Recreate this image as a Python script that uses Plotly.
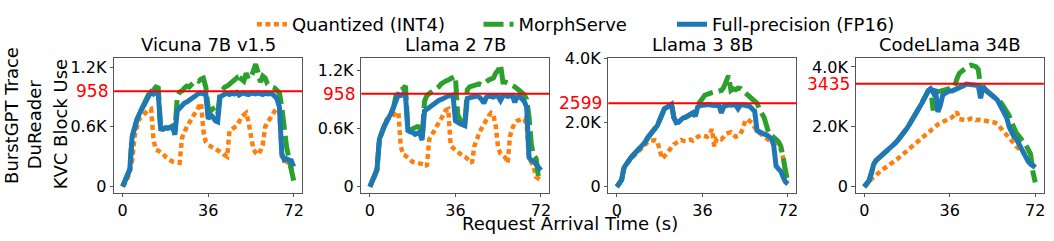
import plotly.graph_objects as go

W, H = 1054, 241
FONT = "DejaVu Sans"

time_s = list(range(73))
x_tickvals = [0, 36, 72]
x_ticktext = ["0", "36", "72"]

model_names = ["Vicuna 7B v1.5", "Llama 2 7B", "Llama 3 8B", "CodeLlama 34B"]
capacity = [958, 958, 2599, 3435]
y_tickvals = [[0, 600, 1200], [0, 600, 1200], [0, 2000, 4000], [0, 2000, 4000]]
y_ticktext = [["0", "0.6K", "1.2K"], ["0", "0.6K", "1.2K"],
              ["0", "2.0K", "4.0K"], ["0", "2.0K", "4.0K"]]

series_names = ["Quantized (INT4)", "MorphServe", "Full-precision (FP16)"]

vicuna_int4 = [0,30,80,150,260,500,600,680,700,730,
               750,770,780,470,370,360,350,330,300,280,
               260,250,245,240,240,490,560,600,640,680,
               720,760,800,840,560,450,420,400,390,380,
               370,350,330,320,300,560,580,600,610,650,
               700,720,740,650,500,380,340,320,360,420,
               600,640,690,720,760,780,750,300,260,250,
               230,180,150]
vicuna_morph = [0,50,110,170,500,600,670,730,780,820,
                860,910,980,970,1000,990,580,575,590,585,
                600,610,560,900,950,960,990,1010,1000,1030,
                1050,1070,1060,1080,1090,1000,800,760,780,740,
                720,940,980,1000,1010,1030,1050,1060,1090,1040,
                1080,1060,1140,1080,1100,1160,1230,1150,1050,1110,
                1090,1030,1010,1000,990,970,940,800,540,400,
                280,150,60]
vicuna_fp16 = [0,50,110,170,500,600,670,730,780,820,
               860,910,950,930,950,940,580,575,590,585,
               590,600,520,760,790,810,840,850,870,890,
               900,920,935,940,930,935,680,720,700,660,
               650,900,920,930,935,925,940,930,945,920,
               935,940,930,925,940,935,930,940,935,925,
               940,930,935,930,910,880,800,330,270,280,
               265,260,200]

llama2_int4 = [0,40,100,195,450,560,630,690,710,725,
               740,750,770,420,330,320,300,270,255,250,
               245,250,240,230,210,490,530,580,620,660,
               700,740,790,800,430,400,380,350,330,320,
               310,290,260,245,420,500,550,600,650,700,
               730,760,740,620,400,340,325,300,245,520,
               600,660,680,690,690,700,640,300,250,200,
               100,80,70]
llama2_morph = [0,60,120,175,490,570,620,670,710,760,
                820,940,980,990,1010,1040,590,585,600,610,
                620,615,500,880,940,960,975,990,1010,1030,
                1060,1080,1090,1100,1110,1120,1140,740,680,650,
                640,1000,1030,1040,1050,1060,1060,1050,1060,1080,
                1100,1110,1120,1170,1200,1260,1080,1080,1070,1060,
                1040,1030,1010,990,970,950,900,720,430,320,
                290,90,60]
llama2_fp16 = [0,60,120,175,490,570,620,670,710,760,
               820,900,950,940,955,945,580,565,560,540,
               550,560,480,780,800,820,840,860,875,890,
               900,915,925,935,940,945,680,660,650,640,
               630,910,920,925,930,935,925,900,860,920,
               935,930,925,940,930,890,935,940,930,935,
               940,870,925,930,910,880,820,300,270,260,
               230,200,170]

llama3_int4 = [0,90,200,560,690,790,880,960,1030,1100,
               1170,1250,1320,1390,1440,1460,1450,1420,1150,880,
               950,1050,1150,1250,1320,1370,1420,1460,1430,1420,
               1450,1470,1440,1520,1560,1580,1600,1580,1560,1620,
               1800,1260,1500,1520,1480,1560,1650,1680,1700,1620,
               1560,1580,1650,1800,2050,2100,2060,1980,1850,1750,
               1680,1620,1560,1520,1450,1380,1330,1280,1220,1170,
               900,400,200]
llama3_morph = [0,100,220,600,720,820,920,1000,1070,1140,
                1230,1320,1400,1530,1640,1730,1810,1900,2100,2330,
                2430,2470,2500,2570,2150,2000,2020,2100,2150,2170,
                2200,2230,2300,2200,2550,2650,2780,2850,2880,2920,
                2930,2950,2960,2980,3000,3100,3250,3460,3000,3050,
                3020,3070,3060,3000,2930,2880,2800,2740,2680,2600,
                2420,2300,2150,1900,1650,1600,1560,1480,1400,1270,
                900,450,100]
llama3_fp16 = [0,100,220,600,720,820,920,1000,1070,1140,
               1230,1320,1400,1530,1640,1730,1810,1900,2100,2330,
               2430,2470,2500,2570,2150,2000,2020,2100,2150,2170,
               2200,2230,2300,2200,2480,2530,2540,2550,2530,2560,
               2540,2550,2530,2520,2300,2500,2540,2550,2540,2560,
               2550,2430,2540,2550,2540,2530,2500,2420,2350,1750,
               1700,1660,1640,1620,1580,1500,1300,650,560,480,
               300,150,90]

codellama_int4 = [0,60,160,260,340,420,480,530,590,640,
                  700,760,810,870,930,1000,1070,1140,1210,1290,
                  1360,1430,1500,1560,1630,1690,1750,1820,1900,1960,
                  2030,2080,2120,2170,2210,2250,2280,2320,2420,2500,
                  2260,2240,2230,2220,2250,2280,2270,2230,2240,2220,
                  2200,2200,2190,2180,2170,2140,2100,2000,1920,1820,
                  1700,1600,1500,1420,1350,1280,1210,1140,1060,990,
                  920,750,650]
codellama_morph = [0,80,200,450,760,880,950,1010,1060,1120,
                   1200,1280,1360,1450,1540,1630,1720,1820,1950,2080,
                   2200,2330,2460,2600,2750,2920,3100,3220,3280,2550,
                   3150,3180,3200,3200,3230,3260,3280,3300,3330,3600,
                   3780,3850,3920,3970,4030,4060,4040,4010,3920,3330,
                   3280,3220,3170,3120,3060,2990,2920,2850,2760,2650,
                   2500,2380,2150,1950,1800,1700,1620,1500,1400,1250,
                   1100,500,150]
codellama_fp16 = [0,80,200,450,760,880,950,1010,1060,1120,
                  1200,1280,1360,1450,1540,1630,1720,1820,1950,2080,
                  2200,2330,2460,2600,2750,2900,3080,3200,3270,3150,
                  3250,2500,2700,3050,3120,3170,3200,3200,3230,3250,
                  3280,3320,3380,3430,3420,3400,3380,3390,3380,2950,
                  3350,3250,3180,3100,3050,3000,2900,2750,2600,2480,
                  2300,2000,1800,1680,1600,1450,1300,1150,950,850,
                  760,700,650]

panels = [
    (vicuna_int4, vicuna_morph, vicuna_fp16),
    (llama2_int4, llama2_morph, llama2_fp16),
    (llama3_int4, llama3_morph, llama3_fp16),
    (codellama_int4, codellama_morph, codellama_fp16),
]

# layout geometry (pixels)
left_px = [114.3, 362.0, 609.5, 857.3]
panel_w = 188.5
top_px, bot_px = 52.0, 194.0
x_range = [-3.6, 75.6]
y_ranges = [[-60, 1290], [-60, 1325], [-177, 4002], [-190, 4290]]

colors = ["#ff7f0e", "#2ca02c", "#1f77b4"]
dashes = ["5px,3.5px", "20px,6px", "solid"]
widths = [4.5, 5, 5]
legend_pad = ["\u00a0" * 5, "\u00a0" * 7, ""]

fig = go.Figure()
frame_col = "#555555"

for i, vals in enumerate(panels):
    xa = "x" if i == 0 else f"x{i+1}"
    ya = "y" if i == 0 else f"y{i+1}"
    for k in range(3):
        fig.add_trace(go.Scatter(
            x=time_s, y=vals[k], mode="lines", name=series_names[k] + legend_pad[k],
            line=dict(color=colors[k], width=widths[k], dash=dashes[k]),
            xaxis=xa, yaxis=ya, showlegend=(i == 0), legendgroup=series_names[k],
        ))
    dom_x = [left_px[i] / W, (left_px[i] + panel_w) / W]
    dom_y = [1 - bot_px / H, 1 - top_px / H]
    xkey = "xaxis" if i == 0 else f"xaxis{i+1}"
    ykey = "yaxis" if i == 0 else f"yaxis{i+1}"
    fig.update_layout(**{
        xkey: dict(domain=dom_x, anchor=ya, range=x_range, tickvals=x_tickvals,
                   ticktext=x_ticktext, showgrid=False, zeroline=False,
                   showline=True, mirror=True, linecolor=frame_col, linewidth=1,
                   ticks="outside", ticklen=3.5, tickcolor=frame_col, tickwidth=1,
                   tickfont=dict(family=FONT, size=16, color="black")),
        ykey: dict(domain=dom_y, anchor=xa, range=y_ranges[i], tickvals=y_tickvals[i],
                   ticktext=y_ticktext[i], showgrid=False, zeroline=False,
                   showline=True, mirror=True, linecolor=frame_col, linewidth=1,
                   ticks="outside", ticklen=3.5, tickcolor=frame_col, tickwidth=1,
                   tickfont=dict(family=FONT, size=16, color="black")),
    })
    # capacity line
    fig.add_shape(type="line", xref=f"{xa} domain", yref=ya, x0=0, x1=1,
                  y0=capacity[i], y1=capacity[i], line=dict(color="#ff0000", width=2),
                  layer="above")
    fig.add_annotation(text=str(capacity[i]), xref="paper", yref=ya,
                       x=(left_px[i] - 4) / W, y=capacity[i], xanchor="right",
                       yanchor="middle", showarrow=False,
                       font=dict(family=FONT, size=17, color="#ff0000"))
    # panel title
    fig.add_annotation(text=model_names[i], xref="paper", yref="paper",
                       x=(left_px[i] + panel_w / 2) / W, y=1 - 38 / H,
                       xanchor="center", yanchor="middle", showarrow=False,
                       font=dict(family=FONT, size=18, color="black"))

# y-axis title lines
for txt, xc, yc in [("BurstGPT Trace", 12, 112), ("DuReader", 34, 122), ("KVC Block Use", 61, 122)]:
    fig.add_annotation(text=txt, xref="paper", yref="paper", x=xc / W, y=1 - yc / H,
                       xanchor="center", yanchor="middle", textangle=-90, showarrow=False,
                       font=dict(family=FONT, size=18, color="black"))

fig.add_annotation(text="Request Arrival Time (s)", xref="paper", yref="paper",
                   x=571.5 / W, y=1 - 227 / H, xanchor="center", yanchor="middle",
                   showarrow=False, font=dict(family=FONT, size=18, color="black"))

fig.update_layout(
    width=W, height=H, margin=dict(l=0, r=0, t=0, b=0),
    paper_bgcolor="white", plot_bgcolor="white",
    font=dict(family=FONT, size=16, color="black"),
    legend=dict(orientation="h", x=577 / W, xanchor="center", y=1 + 3 / H, yanchor="top",
                font=dict(family=FONT, size=18, color="black"),
                bgcolor="rgba(0,0,0,0)", itemwidth=30, tracegroupgap=0),
)

fig.write_html(
    "out.html",
    config={"displayModeBar": False},
    post_script="document.body.style.margin='0';document.body.style.overflow='hidden';",
)
